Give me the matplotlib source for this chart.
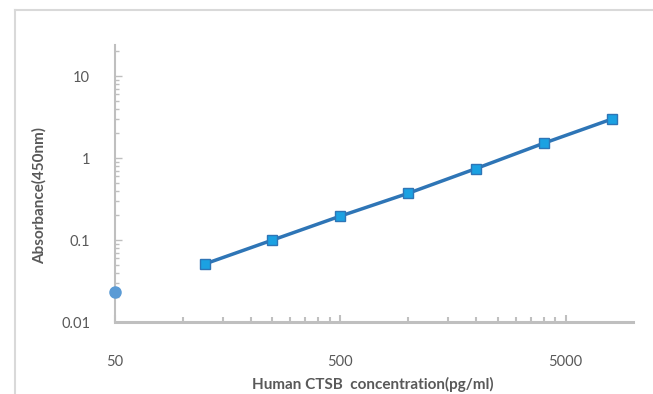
import matplotlib
matplotlib.use("Agg")
import matplotlib.pyplot as plt
from matplotlib.lines import Line2D
from matplotlib.ticker import FixedLocator, NullFormatter, FixedFormatter

# standard curve
conc = [125, 250, 500, 1000, 2000, 4000, 8000]
absorb = [0.051, 0.100, 0.196, 0.372, 0.745, 1.52, 2.99]
# blank point
blank_x = [50]
blank_y = [0.023]

x_major = [50, 500, 5000]
x_labels = ["50", "500", "5000"]
y_major = [0.01, 0.1, 1, 10]
y_labels = ["0.01", "0.1", "1", "10"]

plt.rcParams['font.family'] = ['Lato', 'DejaVu Sans']
grey = '#BFBFBF'
txt = '#595959'

fig = plt.figure(figsize=(6.53, 3.94), dpi=100)
ax = fig.add_axes([115/653, 72/394, 518/653, 277/394])

ax.plot(conc, absorb, color='#2E75B6', linewidth=2.5, marker='s',
        markersize=7, markerfacecolor='#1BA1E2', markeredgecolor='#2E75B6',
        markeredgewidth=1, zorder=3)
ax.plot(blank_x, blank_y, 'o', color='#5B9BD5', markersize=8,
        clip_on=False, zorder=4)

ax.set_xscale('log')
ax.set_yscale('log')
ax.set_xlim(50, 9950)
ax.set_ylim(0.01, 24)

ax.xaxis.set_major_locator(FixedLocator(x_major))
ax.xaxis.set_major_formatter(FixedFormatter(x_labels))
x_minor = [50 * k * 10**n for n in range(3) for k in range(2, 10)]
ax.xaxis.set_minor_locator(FixedLocator([v for v in x_minor if v < 9950]))
ax.xaxis.set_minor_formatter(NullFormatter())

ax.yaxis.set_major_locator(FixedLocator(y_major))
ax.yaxis.set_major_formatter(FixedFormatter(y_labels))
y_minor = [k * 10.0**n for n in range(-2, 2) for k in range(2, 10)]
ax.yaxis.set_minor_locator(FixedLocator([v for v in y_minor if v < 24]))
ax.yaxis.set_minor_formatter(NullFormatter())

for s in ['top', 'right']:
    ax.spines[s].set_visible(False)
ax.spines['bottom'].set_color(grey)
ax.spines['bottom'].set_linewidth(2.2)
ax.spines['left'].set_color(grey)
ax.spines['left'].set_linewidth(1.5)

ax.tick_params(axis='x', which='both', direction='in', colors=grey,
               labelcolor=txt, labelsize=10.5, pad=24)
ax.tick_params(axis='x', which='major', length=5, width=1.5)
ax.tick_params(axis='x', which='minor', length=3.5, width=1.5)
ax.tick_params(axis='y', which='both', direction='in', colors=grey,
               labelcolor=txt, labelsize=10.5, pad=18)
ax.tick_params(axis='y', which='major', length=5, width=1)
ax.tick_params(axis='y', which='minor', length=3, width=1)

ax.set_xlabel("Human CTSB  concentration(pg/ml)", fontsize=11,
              fontweight='bold', color=txt)
ax.set_ylabel("Absorbance(450nm)", fontsize=11, fontweight='bold',
              color=txt)
ax.xaxis.set_label_coords(0.498, -0.197)
ax.yaxis.set_label_coords(-0.131, 0.458)

# chart frame
fig.add_artist(Line2D([15/653, 15/653], [0, 1 - 10/394], color='#D9D9D9',
                      linewidth=1.5, transform=fig.transFigure))
fig.add_artist(Line2D([15/653, 1], [1 - 10/394, 1 - 10/394], color='#D9D9D9',
                      linewidth=1.5, transform=fig.transFigure))

fig.savefig("out.png", dpi=100)
